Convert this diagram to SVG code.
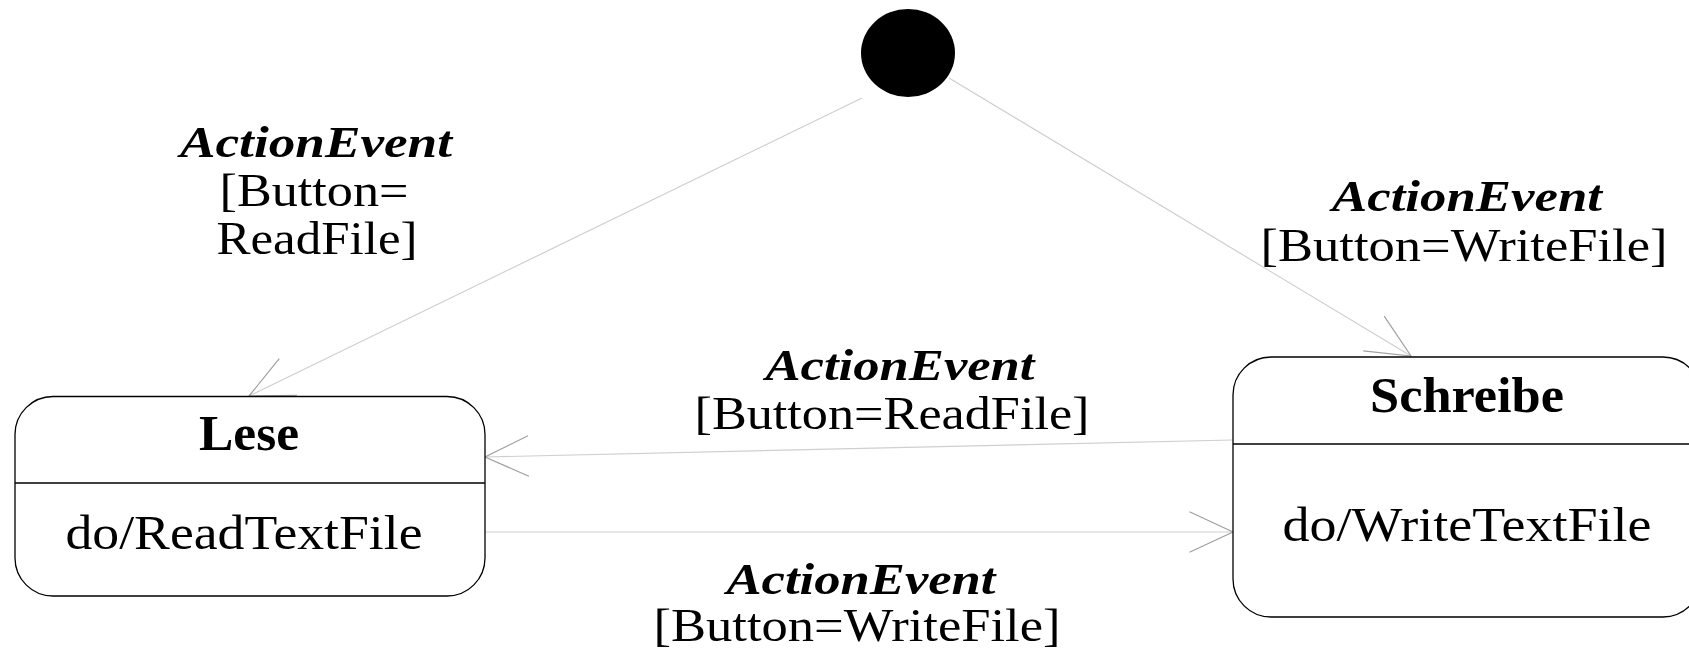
<svg xmlns="http://www.w3.org/2000/svg" width="1689" height="653" viewBox="0 0 1689 653">
<style>
  .state { fill: #fff; stroke: #000; stroke-width: 1.3; }
  .div { stroke: #000; stroke-width: 1.3; }
  .conn { fill: none; stroke: #cfcfcf; stroke-width: 1.2; }
  .title { font-family: "Liberation Serif", serif; font-weight: bold; font-size: 51px; fill: #000; text-anchor: middle; }
  .body { font-family: "Liberation Serif", serif; font-size: 48px; fill: #000; text-anchor: middle; }
  .ev { font-family: "Liberation Serif", serif; font-weight: bold; font-style: italic; font-size: 45px; fill: #000; text-anchor: middle; }
  .guard { font-family: "Liberation Serif", serif; font-size: 46px; fill: #000; text-anchor: middle; }
</style>
<defs>
  <marker id="open" markerUnits="userSpaceOnUse" markerWidth="1" markerHeight="1" refX="0" refY="0" orient="auto" overflow="visible">
    <path d="M -43.5,-20.3 L 0,0 L -43.5,20.3" fill="none" stroke="#a0a0a0" stroke-width="1.2"/>
  </marker>
</defs>
<rect width="1689" height="653" fill="#fff"/>

<g id="connectors">
  <line class="conn" x1="862" y1="98" x2="249" y2="396" marker-end="url(#open)"/>
  <line class="conn" x1="949" y1="78" x2="1411" y2="356" marker-end="url(#open)"/>
  <line class="conn" x1="1233" y1="440" x2="485" y2="457" marker-end="url(#open)"/>
  <line class="conn" x1="485" y1="532" x2="1233" y2="532" marker-end="url(#open)"/>
</g>

<g id="initial">
  <ellipse cx="908" cy="53" rx="47" ry="44" fill="#000"/>
</g>

<g id="lese">
  <rect class="state" x="15" y="396.5" width="470" height="199.5" rx="38" ry="38"/>
  <line class="div" x1="15" y1="483" x2="485" y2="483"/>
  <text class="title" x="249" y="450" textLength="100" lengthAdjust="spacingAndGlyphs">Lese</text>
  <text class="body" x="244" y="549" textLength="357" lengthAdjust="spacingAndGlyphs">do/ReadTextFile</text>
</g>

<g id="schreibe">
  <rect class="state" x="1233" y="357" width="468" height="260" rx="38" ry="38"/>
  <line class="div" x1="1233" y1="444" x2="1701" y2="444"/>
  <text class="title" x="1467" y="412" textLength="194" lengthAdjust="spacingAndGlyphs">Schreibe</text>
  <text class="body" x="1467" y="541" textLength="369" lengthAdjust="spacingAndGlyphs">do/WriteTextFile</text>
</g>

<g id="label-init-lese">
  <text class="ev" x="316" y="157" textLength="272" lengthAdjust="spacingAndGlyphs">ActionEvent</text>
  <text class="guard" x="314" y="206" textLength="189" lengthAdjust="spacingAndGlyphs">[Button=</text>
  <text class="guard" x="317" y="254" textLength="201" lengthAdjust="spacingAndGlyphs">ReadFile]</text>
</g>

<g id="label-init-schreibe">
  <text class="ev" x="1467" y="211" textLength="270" lengthAdjust="spacingAndGlyphs">ActionEvent</text>
  <text class="guard" x="1464" y="261" textLength="407" lengthAdjust="spacingAndGlyphs">[Button=WriteFile]</text>
</g>

<g id="label-schreibe-lese">
  <text class="ev" x="900" y="380" textLength="269" lengthAdjust="spacingAndGlyphs">ActionEvent</text>
  <text class="guard" x="892" y="429" textLength="395" lengthAdjust="spacingAndGlyphs">[Button=ReadFile]</text>
</g>

<g id="label-lese-schreibe">
  <text class="ev" x="861" y="594" textLength="269" lengthAdjust="spacingAndGlyphs">ActionEvent</text>
  <text class="guard" x="857" y="641" textLength="407" lengthAdjust="spacingAndGlyphs">[Button=WriteFile]</text>
</g>
</svg>
